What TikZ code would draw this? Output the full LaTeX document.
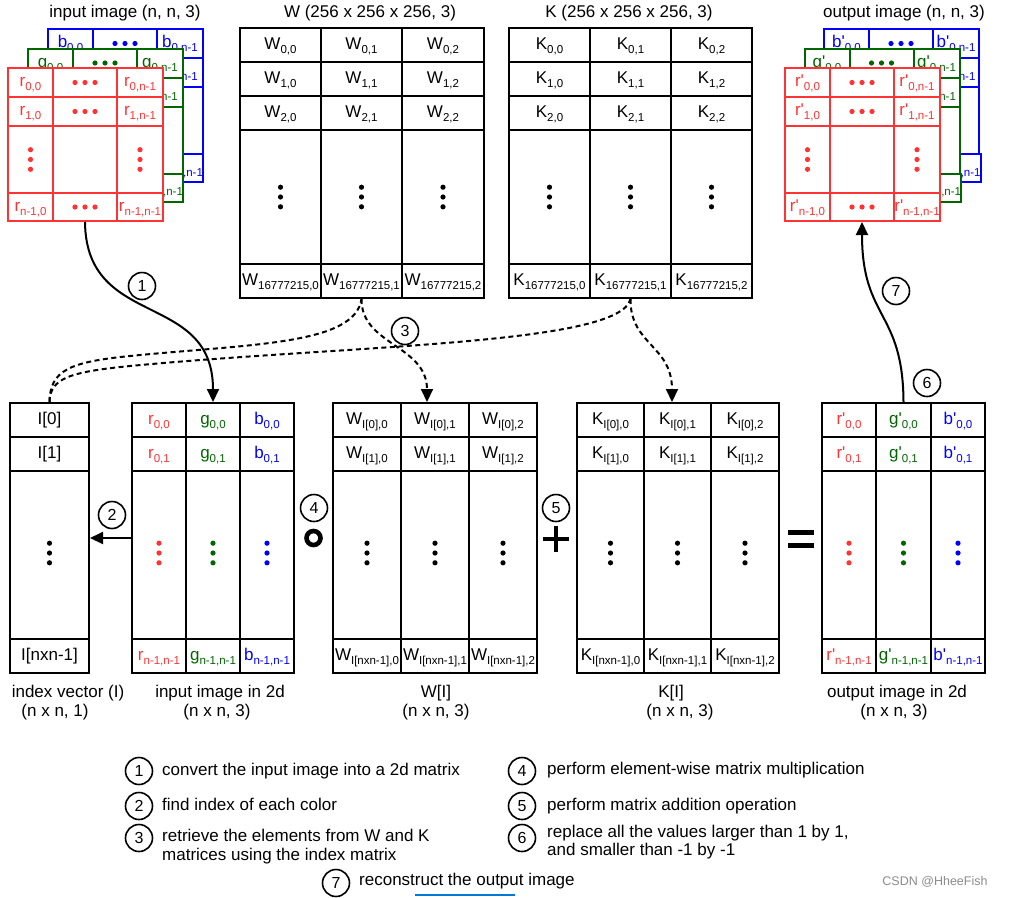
\documentclass[tikz,border=0pt]{standalone}
\usepackage{fontspec}
\setmainfont{Liberation Sans}[Ligatures=TeXOff]
\usetikzlibrary{arrows.meta}
\definecolor{cr}{HTML}{FF3333}
\definecolor{cg}{HTML}{006600}
\definecolor{cb}{HTML}{0000FF}
\definecolor{csdn}{RGB}{0,120,215}
\newcommand\sbx[2]{#1\raisebox{-3.8pt}{\fontsize{11.5}{12}\selectfont #2}}
% name, x1, y1, x2, y2, draw colour, text colour, content
\newcommand\cellat[8]{%
  \node[draw=#6, text=#7, line width=2pt, fill=white, inner sep=0pt,
        text height=12pt, text depth=3.5pt,
        minimum width={(#4-#2)*1pt}, minimum height={(#5-#3)*1pt}]
        (#1) at ({(#2+#4)/2},{(#3+#5)/2}) {#8};}
\newcommand\hdt[3]{\foreach \k in {-1,0,1}{\fill[#3] ({#1+10*\k},{#2}) circle (2.6pt);}}
\newcommand\vdt[3]{\foreach \k in {-1,0,1}{\fill[#3] ({#1},{#2+9.8*\k}) circle (2.6pt);}}
% name, x0, y0, colour, letter
\newcommand\stacklayer[5]{%
  \pgfmathsetmacro\lxa{#2}\pgfmathsetmacro\lxb{#2+45}\pgfmathsetmacro\lxc{#2+109}\pgfmathsetmacro\lxd{#2+155}%
  \pgfmathsetmacro\lya{#3}\pgfmathsetmacro\lyb{#3+29}\pgfmathsetmacro\lyc{#3+58}\pgfmathsetmacro\lyd{#3+125}\pgfmathsetmacro\lye{#3+153}%
  \cellat{#1-1-1}{\lxa}{\lya}{\lxb}{\lyb}{#4}{#4}{\sbx{#5}{0,0}}
  \cellat{#1-1-2}{\lxb}{\lya}{\lxc}{\lyb}{#4}{#4}{}
  \cellat{#1-1-3}{\lxc}{\lya}{\lxd}{\lyb}{#4}{#4}{\sbx{#5}{0,n-1}}
  \cellat{#1-2-1}{\lxa}{\lyb}{\lxb}{\lyc}{#4}{#4}{\sbx{#5}{1,0}}
  \cellat{#1-2-2}{\lxb}{\lyb}{\lxc}{\lyc}{#4}{#4}{}
  \cellat{#1-2-3}{\lxc}{\lyb}{\lxd}{\lyc}{#4}{#4}{\sbx{#5}{1,n-1}}
  \cellat{#1-3-1}{\lxa}{\lyc}{\lxb}{\lyd}{#4}{#4}{}
  \cellat{#1-3-2}{\lxb}{\lyc}{\lxc}{\lyd}{#4}{#4}{}
  \cellat{#1-3-3}{\lxc}{\lyc}{\lxd}{\lyd}{#4}{#4}{}
  \cellat{#1-4-1}{\lxa}{\lyd}{\lxb}{\lye}{#4}{#4}{\sbx{#5}{n-1,0}}
  \cellat{#1-4-2}{\lxb}{\lyd}{\lxc}{\lye}{#4}{#4}{}
  \cellat{#1-4-3}{\lxc}{\lyd}{\lxd}{\lye}{#4}{#4}{\sbx{#5}{n-1,n-1}}
  \hdt{(\lxb+\lxc)/2}{(\lya+\lyb)/2}{#4}
  \hdt{(\lxb+\lxc)/2}{(\lyb+\lyc)/2}{#4}
  \hdt{(\lxb+\lxc)/2}{(\lyd+\lye)/2}{#4}
  \vdt{(\lxa+\lxb)/2}{(\lyc+\lyd)/2}{#4}
  \vdt{(\lxc+\lxd)/2}{(\lyc+\lyd)/2}{#4}
}
% name, row, y1, y2, t1, t2, t3  (uses \Xa..\Xd, \Ca..\Cc)
\newcommand\threecol[7]{%
  \cellat{#1-#2-1}{\Xa}{#3}{\Xb}{#4}{black}{\Ca}{#5}
  \cellat{#1-#2-2}{\Xb}{#3}{\Xc}{#4}{black}{\Cb}{#6}
  \cellat{#1-#2-3}{\Xc}{#3}{\Xd}{#4}{black}{\Cc}{#7}}
\tikzset{
  every node/.style={font=\fontsize{17}{20}\selectfont},
  numc/.style={draw, circle, line width=1.6pt, minimum size=27pt, inner sep=0pt, fill=white,
               font=\fontsize{16}{16}\selectfont},
  leg/.style={anchor=west, inner sep=0pt, text height=12pt, text depth=3.5pt},
  conn/.style={line width=2pt, -{Triangle[length=13pt,width=12pt]}},
  dsh/.style={line width=2pt, dash pattern=on 5pt off 3.5pt},
  dsharr/.style={dsh, -{Triangle[length=13pt,width=12pt]}},
}
\begin{document}
\begin{tikzpicture}[x=1pt,y=-1pt]
\fill[white] (0,0) rectangle (1019,897);
\useasboundingbox (0,0) rectangle (1019,897);

% titles
\node (tin) at (125,13) {input image (n, n, 3)};
\node (tW) at (370,13) {W (256 x 256 x 256, 3)};
\node (tK) at (629,13) {K (256 x 256 x 256, 3)};
\node (tout) at (904,13) {output image (n, n, 3)};

% input image stack
\stacklayer{inB}{48}{29}{cb}{b}
\stacklayer{inG}{28}{48.5}{cg}{g}
\stacklayer{inR}{8}{68}{cr}{r}
% output image stack
\stacklayer{outB}{824}{29}{cb}{b'}
\stacklayer{outG}{804.5}{48.5}{cg}{g'}
\stacklayer{outR}{785}{68}{cr}{r'}

% W matrix
\def\Ca{black}\def\Cb{black}\def\Cc{black}
\def\Xa{240}\def\Xb{321}\def\Xc{402}\def\Xd{484}
\threecol{W}{1}{28}{62}{\sbx{W}{0,0}}{\sbx{W}{0,1}}{\sbx{W}{0,2}}
\threecol{W}{2}{62}{96}{\sbx{W}{1,0}}{\sbx{W}{1,1}}{\sbx{W}{1,2}}
\threecol{W}{3}{96}{130}{\sbx{W}{2,0}}{\sbx{W}{2,1}}{\sbx{W}{2,2}}
\threecol{W}{4}{130}{264}{}{}{}
\threecol{W}{5}{264}{298}{\sbx{W}{16777215,0}}{\sbx{W}{16777215,1}}{\sbx{W}{16777215,2}}
\vdt{280.5}{197}{black}\vdt{361.5}{197}{black}\vdt{443}{197}{black}
% K matrix
\def\Xa{509}\def\Xb{590}\def\Xc{671}\def\Xd{752}
\threecol{K}{1}{28}{62}{\sbx{K}{0,0}}{\sbx{K}{0,1}}{\sbx{K}{0,2}}
\threecol{K}{2}{62}{96}{\sbx{K}{1,0}}{\sbx{K}{1,1}}{\sbx{K}{1,2}}
\threecol{K}{3}{96}{130}{\sbx{K}{2,0}}{\sbx{K}{2,1}}{\sbx{K}{2,2}}
\threecol{K}{4}{130}{264}{}{}{}
\threecol{K}{5}{264}{298}{\sbx{K}{16777215,0}}{\sbx{K}{16777215,1}}{\sbx{K}{16777215,2}}
\vdt{549.5}{197}{black}\vdt{630.5}{197}{black}\vdt{711.5}{197}{black}

% index vector
\cellat{IV-1-1}{10}{403}{89}{437}{black}{black}{I[0]}
\cellat{IV-2-1}{10}{437}{89}{471}{black}{black}{I[1]}
\cellat{IV-3-1}{10}{471}{89}{639}{black}{black}{}
\cellat{IV-4-1}{10}{639}{89}{673}{black}{black}{I[nxn-1]}
\vdt{49.5}{553}{black}

% input image in 2d
\def\Ca{cr}\def\Cb{cg}\def\Cc{cb}
\def\Xa{132}\def\Xb{186}\def\Xc{240}\def\Xd{294}
\threecol{IN}{1}{403}{437}{\sbx{r}{0,0}}{\sbx{g}{0,0}}{\sbx{b}{0,0}}
\threecol{IN}{2}{437}{471}{\sbx{r}{0,1}}{\sbx{g}{0,1}}{\sbx{b}{0,1}}
\threecol{IN}{3}{471}{639}{}{}{}
\threecol{IN}{4}{639}{673}{\sbx{r}{n-1,n-1}}{\sbx{g}{n-1,n-1}}{\sbx{b}{n-1,n-1}}
\vdt{159}{553}{cr}\vdt{213}{553}{cg}\vdt{267}{553}{cb}

% W[I]
\def\Ca{black}\def\Cb{black}\def\Cc{black}
\def\Xa{333}\def\Xb{401}\def\Xc{469}\def\Xd{537}
\threecol{WI}{1}{403}{437}{\sbx{W}{I[0],0}}{\sbx{W}{I[0],1}}{\sbx{W}{I[0],2}}
\threecol{WI}{2}{437}{471}{\sbx{W}{I[1],0}}{\sbx{W}{I[1],1}}{\sbx{W}{I[1],2}}
\threecol{WI}{3}{471}{639}{}{}{}
\threecol{WI}{4}{639}{673}{\sbx{W}{I[nxn-1],0}}{\sbx{W}{I[nxn-1],1}}{\sbx{W}{I[nxn-1],2}}
\vdt{367}{553}{black}\vdt{435}{553}{black}\vdt{503}{553}{black}

% K[I]
\def\Xa{577}\def\Xb{644}\def\Xc{711}\def\Xd{779}
\threecol{KI}{1}{403}{437}{\sbx{K}{I[0],0}}{\sbx{K}{I[0],1}}{\sbx{K}{I[0],2}}
\threecol{KI}{2}{437}{471}{\sbx{K}{I[1],0}}{\sbx{K}{I[1],1}}{\sbx{K}{I[1],2}}
\threecol{KI}{3}{471}{639}{}{}{}
\threecol{KI}{4}{639}{673}{\sbx{K}{I[nxn-1],0}}{\sbx{K}{I[nxn-1],1}}{\sbx{K}{I[nxn-1],2}}
\vdt{610.5}{553}{black}\vdt{677.5}{553}{black}\vdt{745}{553}{black}

% output image in 2d
\def\Ca{cr}\def\Cb{cg}\def\Cc{cb}
\def\Xa{822}\def\Xb{876}\def\Xc{931}\def\Xd{985}
\threecol{OUT}{1}{403}{437}{\sbx{r'}{0,0}}{\sbx{g'}{0,0}}{\sbx{b'}{0,0}}
\threecol{OUT}{2}{437}{471}{\sbx{r'}{0,1}}{\sbx{g'}{0,1}}{\sbx{b'}{0,1}}
\threecol{OUT}{3}{471}{639}{}{}{}
\threecol{OUT}{4}{639}{673}{\sbx{r'}{n-1,n-1}}{\sbx{g'}{n-1,n-1}}{\sbx{b'}{n-1,n-1}}
\vdt{849}{553}{cr}\vdt{903.5}{553}{cg}\vdt{958}{553}{cb}

% operators
\draw[line width=4.6pt] (313.5,538) circle (7pt);
\draw[line width=4.5pt] (543,539) -- (569,539) (556,526) -- (556,552);
\draw[line width=4.6pt] (788,532.5) -- (814,532.5) (788,545.5) -- (814,545.5);

% labels below
\node (lIV) at (68,693) {index vector (I)};
\node (lIV2) at (55,712) {(n x n, 1)};
\node (lIN) at (220,693) {input image in 2d};
\node (lIN2) at (217,712) {(n x n, 3)};
\node (lWI) at (436,693) {W[I]};
\node (lWI2) at (436,712) {(n x n, 3)};
\node (lKI) at (671,693) {K[I]};
\node (lKI2) at (680,712) {(n x n, 3)};
\node (lOUT) at (897,693) {output image in 2d};
\node (lOUT2) at (894,712) {(n x n, 3)};

% connectors
\draw[conn] (inR-4-2.south) .. controls (86,330) and (213,290) .. (IN-1-2.north);
\draw[conn] ([yshift=17pt]IN-3-1.west) -- ([yshift=17pt]IV-3-1.east);
\draw[dsh] (IV-1-1.north) .. controls (50,370) and (70,362) .. (130,356)
           .. controls (250,344) and (355,345) .. (W-5-2.south);
\draw[dsh] (IV-1-1.north) .. controls (50,378) and (70,372) .. (130,366)
           .. controls (350,345) and (620,345) .. (K-5-2.south);
\draw[dsharr] (W-5-2.south) .. controls (361,345) and (427,345) .. ([xshift=-8pt]WI-1-2.north);
\draw[dsharr] (K-5-2.south) .. controls (630,345) and (672,345) .. ([xshift=-5.5pt]KI-1-2.north);
\draw[conn] (OUT-1-2.north) .. controls (903,310) and (862,320) .. (outR-4-2.south);

% step numbers on the diagram
\node[numc] (n1) at (142,286) {1};
\node[numc] (n2) at (112,515) {2};
\node[numc] (n3) at (405,331) {3};
\node[numc] (n4) at (314,508) {4};
\node[numc] (n5) at (556,508) {5};
\node[numc] (n6) at (927,383) {6};
\node[numc] (n7) at (896,291) {7};

% legend
\node[numc] (g1) at (139,771) {1};
\node[leg] (t1) at (162,771) {convert the input image into a 2d matrix};
\node[numc] (g2) at (139,806) {2};
\node[leg] (t2) at (162,806) {find index of each color};
\node[numc] (g3) at (139,838) {3};
\node[leg] (t3a) at (162,837) {retrieve the elements from W and K};
\node[leg] (t3b) at (162,856) {matrices using the index matrix};
\node[numc] (g4) at (522,771) {4};
\node[leg] (t4) at (547,770) {perform element-wise matrix multiplication};
\node[numc] (g5) at (522,806) {5};
\node[leg] (t5) at (547,806) {perform matrix addition operation};
\node[numc] (g6) at (522,838) {6};
\node[leg] (t6a) at (547,833) {replace all the values larger than 1 by 1,};
\node[leg] (t6b) at (547,851) {and smaller than -1 by -1};
\node[numc] (g7) at (336,883) {7};
\node[leg] (t7) at (359,881) {reconstruct the output image};

% watermark and underline
\node[text=black!45, font=\fontsize{12.5}{13}\selectfont] (wm) at (935,882) {CSDN @HheeFish};
\draw[line width=2pt, csdn] (415,895) -- (515,895);
\end{tikzpicture}
\end{document}
